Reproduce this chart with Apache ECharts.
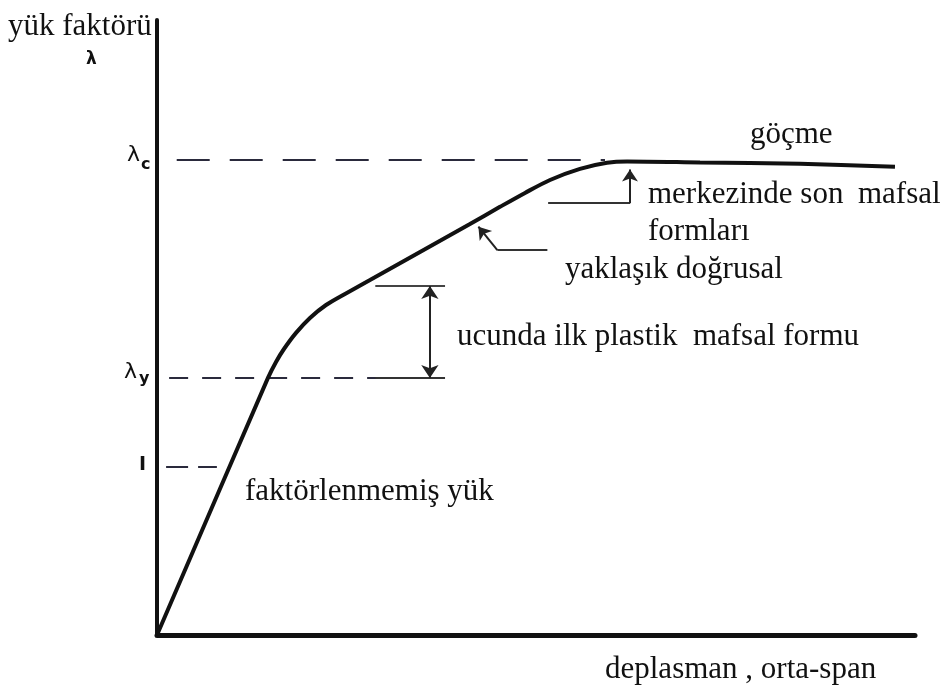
<!DOCTYPE html>
<html>
<head>
<meta charset="utf-8">
<title>yük faktörü – deplasman</title>
<script src="https://cdn.jsdelivr.net/npm/echarts@6/dist/echarts.min.js"></script>
<style>
  html, body { margin: 0; padding: 0; background: #ffffff; }
  #chart { width: 943px; height: 689px; }
</style>
</head>
<body>
<div id="chart"></div>
<script>
// Load factor (λ) versus mid-span displacement, schematic curve
const dispX = [0, 14.64, 15.70, 16.75, 18.34, 20.18, 22.30, 24.80, 28.10, 34.70, 41.29, 45.25, 48.55, 51.85, 55.80, 59.37, 62.01, 71.64, 84.83, 97.36];
const loadY = [0, 1.530, 1.625, 1.702, 1.798, 1.887, 1.964, 2.030, 2.113, 2.280, 2.446, 2.548, 2.631, 2.708, 2.774, 2.810, 2.818, 2.812, 2.804, 2.786];

// characteristic load levels
const lambdaC = 2.83;   // collapse
const lambdaY = 1.53;   // first plastic hinge
const unitLoad = 1;     // unfactored load

// displacement extents of the reference lines
const lambdaCSpan = [2.6, 59.1];
const lambdaYSpan = [1.6, 29.0];
const unitSpan = [1.2, 7.9];

// first-hinge dimension: bar positions and the arrowed measure
const firstHingeTopY = 2.077;
const firstHingeBar = [28.8, 38.0];
const firstHingeMeasureX = 36.0;

// leader for "yaklaşık doğrusal": elbow, arrow tip, tail end
const linearElbow = [44.9, 2.29];
const linearTip = [42.4, 2.43];
const linearTail = [51.5, 2.29];
// leader for the last hinge at mid-span: start, corner, arrow tip
const lastHingeStart = [51.6, 2.57];
const lastHingeCorner = [62.4, 2.57];
const lastHingeTip = [62.4, 2.77];

const curveData = dispX.map((x, i) => [x, loadY[i]]);
const ink = '#111';
const dashInk = '#2a2a3c';
const serif = '"Liberation Serif", "DejaVu Serif", serif';
const textSize = 31;

function txt(text, left, top) {
  return {
    type: 'text', left: left, top: top,
    style: { text: text, font: textSize + 'px ' + serif, fill: '#111' }
  };
}

const chart = echarts.init(document.getElementById('chart'));
chart.setOption({
  animation: false,
  backgroundColor: '#ffffff',
  grid: { left: 157, right: 28, top: 20, bottom: 54, containLabel: false },
  xAxis: {
    type: 'value', min: 0, max: 100,
    axisLine: { show: true, lineStyle: { color: ink, width: 5 } },
    axisTick: { show: false }, axisLabel: { show: false }, splitLine: { show: false }
  },
  yAxis: {
    type: 'value', min: 0, max: 3.66,
    axisLine: { show: true, lineStyle: { color: ink, width: 4 } },
    axisTick: { show: false }, axisLabel: { show: false }, splitLine: { show: false }
  },
  series: [
    {
      name: 'yük faktörü',
      type: 'line',
      data: curveData,
      smooth: 0.3,
      showSymbol: false,
      lineStyle: { color: ink, width: 4 },
      z: 5
    },
    {
      name: 'referans',
      type: 'lines',
      coordinateSystem: 'cartesian2d',
      silent: true,
      lineStyle: { opacity: 1 },
      data: [
        { coords: [[lambdaCSpan[0], lambdaC], [lambdaCSpan[1], lambdaC]],
          lineStyle: { type: [33, 20], width: 2.2, color: dashInk, opacity: 1 } },
        { coords: [[lambdaYSpan[0], lambdaY], [lambdaYSpan[1], lambdaY]],
          lineStyle: { type: [19, 14], width: 2.2, color: dashInk, opacity: 1 } },
        { coords: [[unitSpan[0], unitLoad], [unitSpan[1], unitLoad]],
          lineStyle: { type: [22, 10], width: 2.2, color: dashInk, opacity: 1 } },
        { coords: [[firstHingeBar[0], lambdaY], [firstHingeBar[1], lambdaY]],
          lineStyle: { type: 'solid', width: 2.2, color: '#333', opacity: 1 } },
        { coords: [[firstHingeBar[0], firstHingeTopY], [firstHingeBar[1], firstHingeTopY]],
          lineStyle: { type: 'solid', width: 2.2, color: '#444', opacity: 1 } },
        { coords: [linearElbow, linearTail],
          lineStyle: { type: 'solid', width: 2, color: '#333', opacity: 1 } },
        { coords: [lastHingeStart, lastHingeCorner],
          lineStyle: { type: 'solid', width: 2, color: '#333', opacity: 1 } }
      ],
      symbol: ['none', 'none'],
      z: 3
    },
    {
      name: 'ölçü',
      type: 'lines',
      coordinateSystem: 'cartesian2d',
      silent: true,
      symbol: ['arrow', 'arrow'],
      symbolSize: 13,
      lineStyle: { color: '#222', width: 2, opacity: 1 },
      data: [
        { coords: [[firstHingeMeasureX, firstHingeTopY], [firstHingeMeasureX, lambdaY]] }
      ],
      z: 6
    },
    {
      name: 'oklar',
      type: 'lines',
      coordinateSystem: 'cartesian2d',
      silent: true,
      symbol: ['none', 'arrow'],
      symbolSize: 12,
      lineStyle: { color: '#222', width: 2, opacity: 1 },
      data: [
        { coords: [linearElbow, linearTip] },
        { coords: [lastHingeCorner, lastHingeTip] }
      ],
      z: 6
    }
  ],
  graphic: [
    txt('yük faktörü', 8, 11),
    { type: 'text', left: 86, top: 51,
      style: { text: 'λ', font: 'bold 17px "DejaVu Sans", sans-serif', fill: '#111' } },
    { type: 'text', left: 127, top: 144,
      style: { text: 'λ', font: '22px "DejaVu Sans", sans-serif', fill: '#111' } },
    { type: 'text', left: 141, top: 157,
      style: { text: 'c', font: 'bold 16px "DejaVu Sans", sans-serif', fill: '#111' } },
    { type: 'text', left: 124, top: 361,
      style: { text: 'λ', font: '22px "DejaVu Sans", sans-serif', fill: '#111' } },
    { type: 'text', left: 139, top: 371,
      style: { text: 'y', font: 'bold 16px "DejaVu Sans", sans-serif', fill: '#111' } },
    { type: 'text', left: 139, top: 456,
      style: { text: 'I', font: 'bold 19px "DejaVu Sans", sans-serif', fill: '#111' } },
    txt('göçme', 750, 119),
    txt('merkezinde son', 648, 179),
    txt('mafsal', 858, 179),
    txt('formları', 648, 216),
    txt('yaklaşık doğrusal', 565, 254),
    txt('ucunda ilk plastik  mafsal formu', 457, 321),
    txt('faktörlenmemiş yük', 245, 476),
    txt('deplasman , orta-span', 605, 654)
  ]
});
</script>
</body>
</html>
